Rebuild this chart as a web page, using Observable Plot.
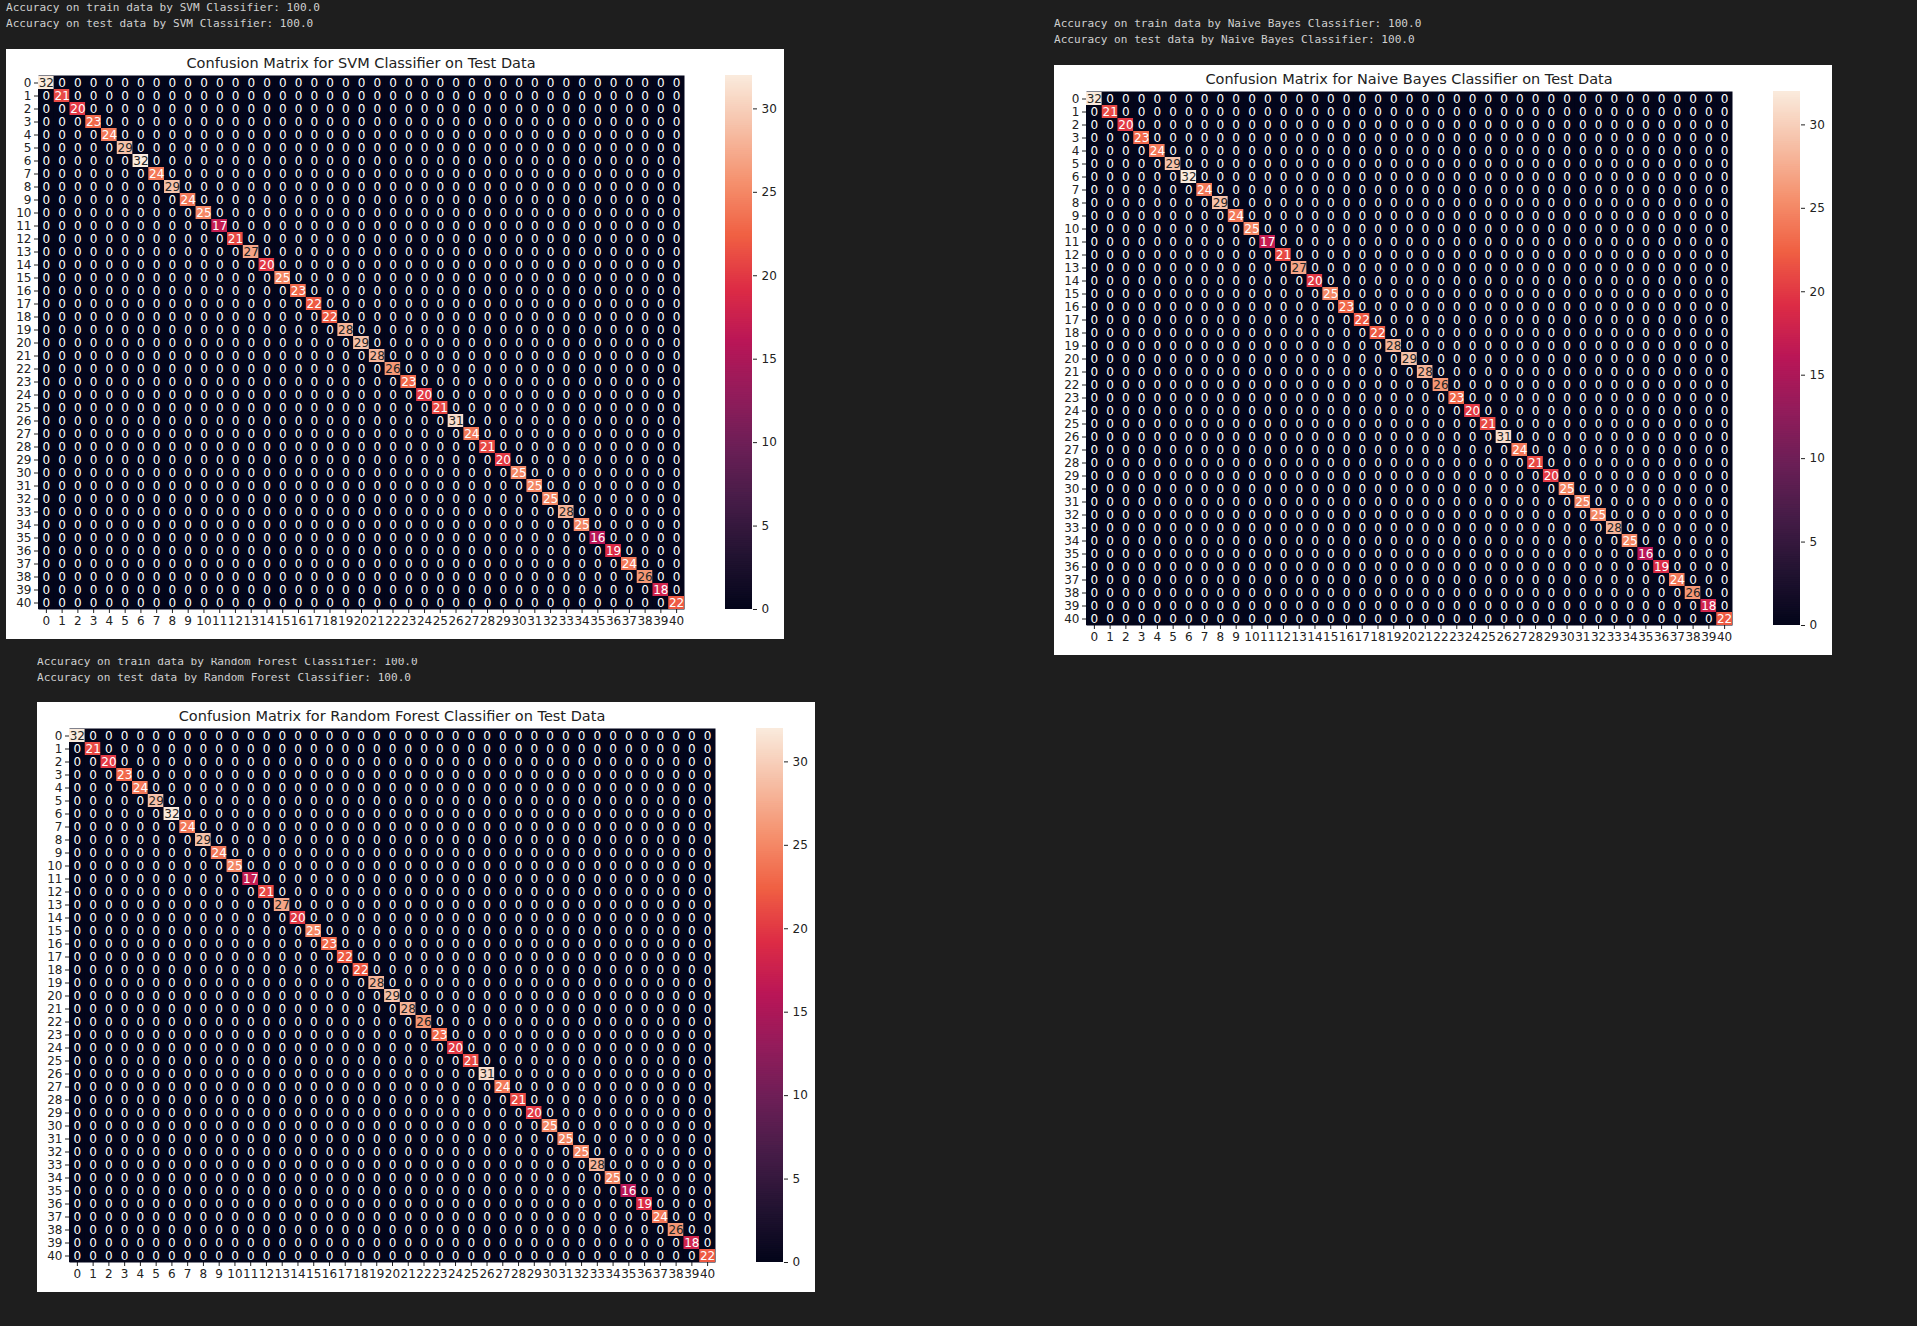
<!DOCTYPE html>
<html><head><meta charset="utf-8">
<script src="https://cdn.jsdelivr.net/npm/d3@7"></script>
<script src="https://cdn.jsdelivr.net/npm/@observablehq/plot@0.6"></script>
<style>
html,body{margin:0;padding:0;background:#1e1e1e;}
#root{position:relative;width:1917px;height:1326px;overflow:hidden;background:#1e1e1e;}
.log{position:absolute;font-family:"DejaVu Sans Mono",monospace;font-size:11.1px;line-height:16px;color:#cfcfcf;white-space:pre;}
.clip{position:absolute;overflow:hidden;}
.panel{position:absolute;width:778px;height:590px;background:#fff;}
.title{position:absolute;font-family:"DejaVu Sans",sans-serif;font-size:14.5px;color:#222;white-space:nowrap;transform:translate(-50%,-50%);}
.panel svg{position:absolute;}
</style></head><body><div id="root"></div>
<script>
// ---- data ----
const classLabels = ["0","1","2","3","4","5","6","7","8","9","10","11","12","13","14","15","16","17","18","19","20","21","22","23","24","25","26","27","28","29","30","31","32","33","34","35","36","37","38","39","40"];
const svmDiagonal = [32,21,20,23,24,29,32,24,29,24,25,17,21,27,20,25,23,22,22,28,29,28,26,23,20,21,31,24,21,20,25,25,25,28,25,16,19,24,26,18,22];
const nbDiagonal  = [32,21,20,23,24,29,32,24,29,24,25,17,21,27,20,25,23,22,22,28,29,28,26,23,20,21,31,24,21,20,25,25,25,28,25,16,19,24,26,18,22];
const rfDiagonal  = [32,21,20,23,24,29,32,24,29,24,25,17,21,27,20,25,23,22,22,28,29,28,26,23,20,21,31,24,21,20,25,25,25,28,25,16,19,24,26,18,22];
const offDiagonalValue = 0;
const colorDomain = [0, 32];
const colorbarTicks = [0, 5, 10, 15, 20, 25, 30];
const rocketColors = ["#03051a","#221331","#451c47","#6a1f56","#921c5b","#b91657","#dd2c45","#f06043","#f5916e","#f6bfa6","#faebdd"];
const logSvm = ["Accuracy on train data by SVM Classifier: 100.0","Accuracy on test data by SVM Classifier: 100.0"];
const logNb = ["Accuracy on train data by Naive Bayes Classifier: 100.0","Accuracy on test data by Naive Bayes Classifier: 100.0"];
const logRf = ["Accuracy on train data by Random Forest Classifier: 100.0","Accuracy on test data by Random Forest Classifier: 100.0"];
const titles = ["Confusion Matrix for SVM Classifier on Test Data","Confusion Matrix for Naive Bayes Classifier on Test Data","Confusion Matrix for Random Forest Classifier on Test Data"];

// ---- helpers ----
const rocket = d3.piecewise(d3.interpolateRgb, rocketColors);
function luminance(v) {
  const c = d3.rgb(rocket((v - colorDomain[0]) / (colorDomain[1] - colorDomain[0])));
  const f = x => { x /= 255; return x <= 0.03928 ? x / 12.92 : Math.pow((x + 0.055) / 1.055, 2.4); };
  return 0.2126 * f(c.r) + 0.7152 * f(c.g) + 0.0722 * f(c.b);
}
const baseStyle = {background: "transparent", fontFamily: "DejaVu Sans, sans-serif", fontSize: "12px", color: "#222", overflow: "visible"};

function heatmap(diag) {
  const data = [];
  classLabels.forEach((r, i) => classLabels.forEach((c, j) => data.push({row: r, col: c, value: i === j ? diag[i] : offDiagonalValue})));
  const textOpts = {x: "col", y: "row", text: d => String(d.value), fontSize: 12};
  return Plot.plot({
    width: 778, height: 590,
    marginLeft: 32, marginTop: 26, marginRight: 100, marginBottom: 30,
    style: baseStyle,
    x: {domain: classLabels, padding: 0, label: null, tickSize: 4, tickPadding: 3},
    y: {domain: classLabels, padding: 0, label: null, tickSize: 4, tickPadding: 3},
    color: {type: "linear", domain: colorDomain, interpolate: rocket},
    marks: [
      Plot.frame({fill: rocketColors[0], stroke: null}),
      Plot.cell(data, {x: "col", y: "row", fill: "value", inset: 0}),
      Plot.text(data, {...textOpts, filter: d => luminance(d.value) <= 0.408, fill: "white"}),
      Plot.text(data, {...textOpts, filter: d => luminance(d.value) > 0.408, fill: "#262626"})
    ]
  });
}

function colorbar() {
  const steps = d3.range(colorDomain[0], colorDomain[1], 0.125);
  return Plot.plot({
    width: 62, height: 546,
    marginLeft: 0, marginRight: 35, marginTop: 6, marginBottom: 6,
    style: baseStyle,
    x: {domain: [0, 1], axis: null},
    y: {domain: colorDomain, axis: "right", ticks: colorbarTicks, tickSize: 4, tickPadding: 5, label: null},
    color: {type: "linear", domain: colorDomain, interpolate: rocket},
    marks: [
      Plot.rect(steps, {x1: 0, x2: 1, y1: d => d, y2: d => Math.min(colorDomain[1], d + 0.2), fill: d => d + 0.0625, inset: 0})
    ]
  });
}

const root = document.getElementById("root");
function addLog(lines, left, top, clipTop) {
  const div = document.createElement("div");
  div.className = "log";
  div.textContent = lines.join("\n");
  if (clipTop != null) {
    const clip = document.createElement("div");
    clip.className = "clip";
    clip.style.left = left + "px";
    clip.style.top = clipTop + "px";
    clip.style.width = "800px";
    clip.style.height = "40px";
    div.style.left = "0px";
    div.style.top = (top - clipTop) + "px";
    clip.appendChild(div);
    root.appendChild(clip);
  } else {
    div.style.left = left + "px";
    div.style.top = top + "px";
    root.appendChild(div);
  }
}
function addPanel(diag, title, left, top) {
  const panel = document.createElement("div");
  panel.className = "panel";
  panel.style.left = left + "px";
  panel.style.top = top + "px";
  const hm = heatmap(diag);
  hm.style.left = "0px"; hm.style.top = "0px";
  panel.appendChild(hm);
  const cb = colorbar();
  cb.style.left = "719px"; cb.style.top = "20px";
  panel.appendChild(cb);
  const t = document.createElement("div");
  t.className = "title";
  t.textContent = title;
  t.style.left = "355px"; t.style.top = "14px";
  panel.appendChild(t);
  root.appendChild(panel);
}

addLog(logSvm, 6, 0);
addPanel(svmDiagonal, titles[0], 6, 49);
addLog(logNb, 1054, 16);
addPanel(nbDiagonal, titles[1], 1054, 65);
addLog(logRf, 37, 654, 658);
addPanel(rfDiagonal, titles[2], 37, 702);
</script></body></html>
